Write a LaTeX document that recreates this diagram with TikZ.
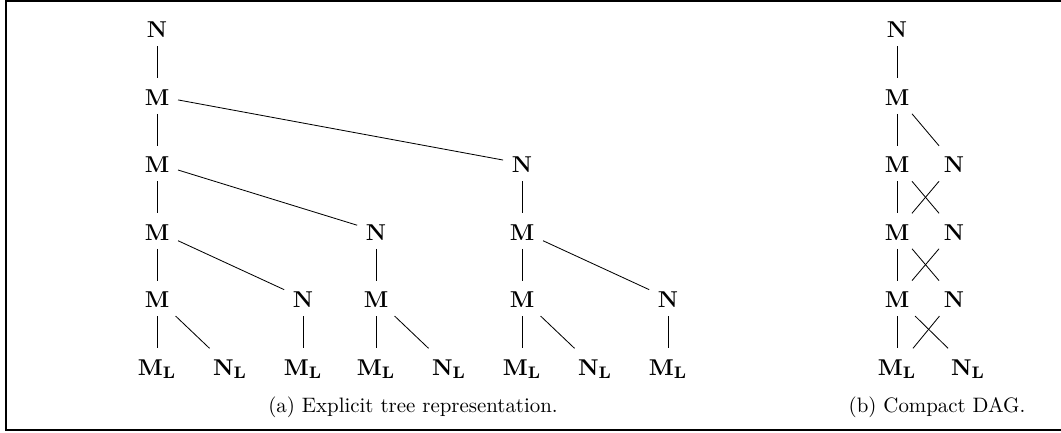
\documentclass[tikz,border=0pt]{standalone}
\begin{document}
\begin{tikzpicture}[x=0.479pt,y=-0.479pt,
  nd/.style={font=\fontsize{11}{13}\selectfont\bfseries, anchor=base, inner sep=4pt, text height=8.6pt},
  edge/.style={line width=0.4pt},
  frame/.style={line width=1pt}]
\useasboundingbox (0,0) rectangle (1061,432);
\draw[frame] (1061,1) -- (6,1) -- (6,430) -- (1061,430);
% rows baselines
\def\ra{37.7}\def\rb{105}\def\rc{172.5}\def\rd{240}\def\re{307.3}\def\rf{375}
% left tree
\node[nd] (a1) at (157,\ra) {N};
\node[nd] (a2) at (157,\rb) {M};
\node[nd] (a3) at (157,\rc) {M};
\node[nd] (b3) at (522,\rc) {N};
\node[nd] (a4) at (157,\rd) {M};
\node[nd] (c4) at (376,\rd) {N};
\node[nd] (b4) at (522,\rd) {M};
\node[nd] (a5) at (157,\re) {M};
\node[nd] (d5) at (303,\re) {N};
\node[nd] (c5) at (376,\re) {M};
\node[nd] (b5) at (522,\re) {M};
\node[nd] (e5) at (668,\re) {N};
\node[nd] (l1) at (157,\rf) {$\mathbf{M_L}$};
\node[nd] (l2) at (230,\rf) {$\mathbf{N_L}$};
\node[nd] (l3) at (303,\rf) {$\mathbf{M_L}$};
\node[nd] (l4) at (376,\rf) {$\mathbf{M_L}$};
\node[nd] (l5) at (449,\rf) {$\mathbf{N_L}$};
\node[nd] (l6) at (522,\rf) {$\mathbf{M_L}$};
\node[nd] (l7) at (595,\rf) {$\mathbf{N_L}$};
\node[nd] (l8) at (668,\rf) {$\mathbf{M_L}$};
\draw[edge] (a1) -- (a2);
\draw[edge] (a2) -- (a3);
\draw[edge] (a2) -- (b3);
\draw[edge] (a3) -- (a4);
\draw[edge] (a3) -- (c4);
\draw[edge] (b3) -- (b4);
\draw[edge] (a4) -- (a5);
\draw[edge] (a4) -- (d5);
\draw[edge] (c4) -- (c5);
\draw[edge] (b4) -- (b5);
\draw[edge] (b4) -- (e5);
\draw[edge] (a5) -- (l1);
\draw[edge] (a5) -- (l2);
\draw[edge] (d5) -- (l3);
\draw[edge] (c5) -- (l4);
\draw[edge] (c5) -- (l5);
\draw[edge] (b5) -- (l6);
\draw[edge] (b5) -- (l7);
\draw[edge] (e5) -- (l8);
\node[anchor=base] (capa) at (413,412) {(a) Explicit tree representation.};
% right DAG
\node[nd] (r1) at (897,\ra) {N};
\node[nd] (r2) at (897,\rb) {M};
\node[nd] (r3m) at (897,\rc) {M};
\node[nd] (r3n) at (954,\rc) {N};
\node[nd] (r4m) at (897,\rd) {M};
\node[nd] (r4n) at (954,\rd) {N};
\node[nd] (r5m) at (897,\re) {M};
\node[nd] (r5n) at (954,\re) {N};
\node[nd] (r6m) at (897,\rf) {$\mathbf{M_L}$};
\node[nd] (r6n) at (968,\rf) {$\mathbf{N_L}$};
\draw[edge] (r1) -- (r2);
\draw[edge] (r2) -- (r3m);
\draw[edge] (r2) -- (r3n);
\draw[edge] (r3m) -- (r4m);
\draw[edge] (r3m) -- (r4n);
\draw[edge] (r3n) -- (r4m);
\draw[edge] (r4m) -- (r5m);
\draw[edge] (r4m) -- (r5n);
\draw[edge] (r4n) -- (r5m);
\draw[edge] (r5m) -- (r6m);
\draw[edge] (r5m) -- (r6n);
\draw[edge] (r5n) -- (r6m);
\node[anchor=base] (capb) at (937,412) {(b) Compact DAG.};
\end{tikzpicture}
\end{document}
